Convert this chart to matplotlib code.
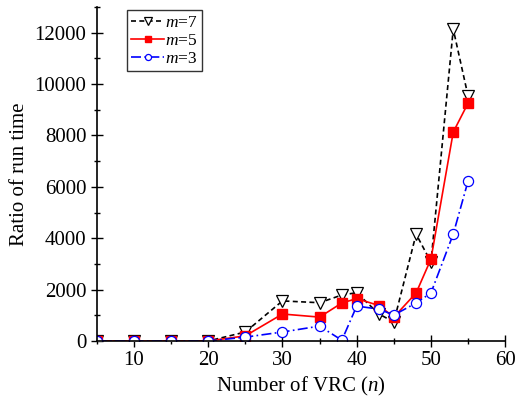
import numpy as np
import matplotlib.pyplot as plt
from matplotlib.ticker import MultipleLocator

plt.rcParams['font.family'] = ['Liberation Serif', 'DejaVu Serif']
plt.rcParams['mathtext.fontset'] = 'custom'
plt.rcParams['mathtext.it'] = 'Liberation Serif:italic'
plt.rcParams['mathtext.rm'] = 'Liberation Serif'

n = [5, 10, 15, 20, 25, 30, 35, 38, 40, 43, 45, 48, 50, 53, 55]
m7 = [0, 0, 0, 0, 350, 1560, 1490, 1790, 1880, 1050, 740, 4160, 3070, 12140, 9530]
m5 = [0, 0, 0, 0, 200, 1050, 930, 1480, 1650, 1380, 930, 1870, 3190, 8130, 9260]
m3 = [0, 0, 0, 0, 150, 350, 580, 30, 1360, 1240, 1010, 1480, 1870, 4160, 6230]

fig = plt.figure(figsize=(5.15, 4), dpi=100)
ax = fig.add_axes([0.188, 0.1475, 0.793, 0.835])

ax.plot(n, m7, color='black', ls=(0, (3, 2)), lw=1.2, marker='v', ms=8.6,
        mfc='white', mec='black', mew=0.9, label='$m$=7')
ax.plot(n, m5, color='red', ls='-', lw=1.2, marker='s', ms=6.5,
        mfc='red', mec='red', label='$m$=5')
ax.plot(n, m3, color='blue', ls=(0, (6, 2, 1, 2)), lw=1.2, marker='o', ms=7.3,
        mfc='white', mec='blue', mew=0.9, label='$m$=3')

ax.set_xlim(5, 60)
ax.set_ylim(0, 13000)
ax.xaxis.set_major_locator(MultipleLocator(10))
ax.xaxis.set_minor_locator(MultipleLocator(5))
ax.yaxis.set_major_locator(MultipleLocator(2000))
ax.yaxis.set_minor_locator(MultipleLocator(1000))
ax.tick_params(which='both', direction='inout', labelsize=15, width=1)
ax.tick_params(which='major', length=8)
ax.tick_params(which='minor', length=5)
ax.spines['top'].set_visible(False)
ax.spines['right'].set_visible(False)
for s in ['left', 'bottom']:
    ax.spines[s].set_linewidth(1.2)

ax.set_xlabel('Number of VRC ($n$)', fontsize=15, labelpad=3)
ax.set_ylabel('Ratio of run time', fontsize=15, labelpad=4)

leg = ax.legend(loc='upper left', bbox_to_anchor=(0.074, 0.99), fontsize=12.5,
                handlelength=1.9, handletextpad=0.05, borderpad=0.25,
                labelspacing=0.1, borderaxespad=0, fancybox=False,
                markerscale=0.6)
leg.get_frame().set_edgecolor('black')
leg.get_frame().set_linewidth(1)

fig.savefig('out.png', dpi=100)
